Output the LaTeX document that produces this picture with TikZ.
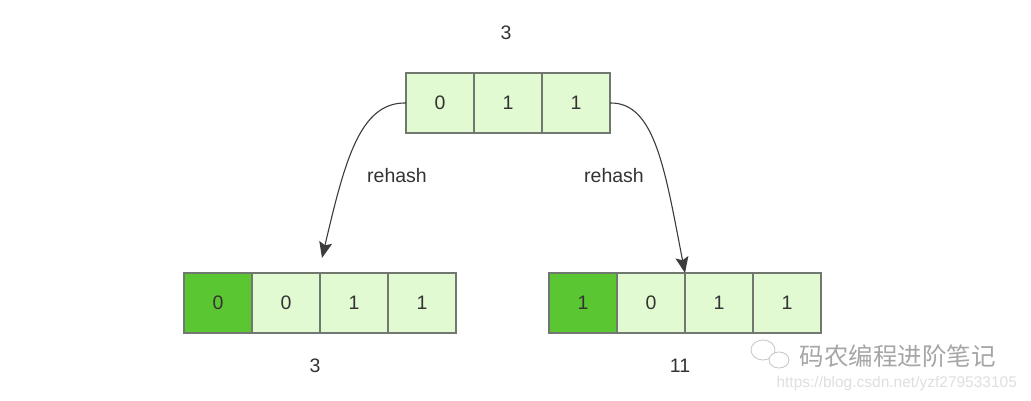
\documentclass[tikz,border=0pt]{standalone}
\usepackage{fontspec}
\setmainfont{Liberation Sans}
\newfontfamily\cjk{Noto Sans CJK SC}
\usetikzlibrary{arrows.meta,positioning}
\definecolor{lightcell}{HTML}{E1FAD2}
\definecolor{darkcell}{HTML}{5AC632}
\definecolor{cellborder}{HTML}{707870}
\definecolor{inktext}{HTML}{333333}
\definecolor{inkline}{HTML}{3C3C3C}
\begin{document}
\begin{tikzpicture}[x=1pt,y=-1pt, cell/.style={draw=cellborder,fill=lightcell,line width=1.3pt,outer sep=0pt,inner sep=0pt,minimum width=68pt,minimum height=60pt,text=inktext,font=\fontsize{19.5}{22}\selectfont}, hotcell/.style={cell,fill=darkcell}, lbl/.style={text=inktext,font=\fontsize{19.5}{22}\selectfont}, >={Stealth[length=16pt,width=13pt,inset=3pt]}]
\useasboundingbox[fill=white] (0,0) rectangle (1031,401);
% top array
\node[lbl] (topval) at (506,33) {3};
\node[cell] (t0) at (440,103) {0};
\node[cell, right=0pt of t0] (t1) {1};
\node[cell, right=0pt of t1] (t2) {1};
% left result
\node[hotcell] (a0) at (218,303) {0};
\node[cell, right=0pt of a0] (a1) {0};
\node[cell, right=0pt of a1] (a2) {1};
\node[cell, right=0pt of a2] (a3) {1};
\node[lbl] (aval) at (315,366) {3};
% right result
\node[hotcell] (b0) at (583,303) {1};
\node[cell, right=0pt of b0] (b1) {0};
\node[cell, right=0pt of b1] (b2) {1};
\node[cell, right=0pt of b2] (b3) {1};
\node[lbl] (bval) at (680,366) {11};
% rehash arrows
\coordinate (atip) at ([xshift=2pt,yshift=15pt]a1.north east);
\draw[->,draw=inkline,line width=1.1pt] (t0.west) .. controls (360,102) and (345,160) .. (atip);
\draw[->,draw=inkline,line width=1.1pt] (t2.east) .. controls (655,102) and (665,170) .. (b1.north east);
\node[lbl] (lrh) at (397,176) {rehash};
\node[lbl] (rrh) at (614,176) {rehash};
% watermark
\draw[gray!45,line width=0.8pt,fill=white] (763,350) ellipse [x radius=12, y radius=10];
\draw[gray!45,line width=0.8pt,fill=white] (779,360) ellipse [x radius=10, y radius=8];
\node[text=gray!70,font=\cjk\fontsize{24.5}{26}\selectfont,anchor=west] (wm) at (796,356) {码农编程进阶笔记};
\node[text=gray!25,font=\fontsize{15.5}{17}\selectfont,anchor=west] (url) at (773,383) {https://blog.csdn.net/yzf279533105};
\end{tikzpicture}
\end{document}
